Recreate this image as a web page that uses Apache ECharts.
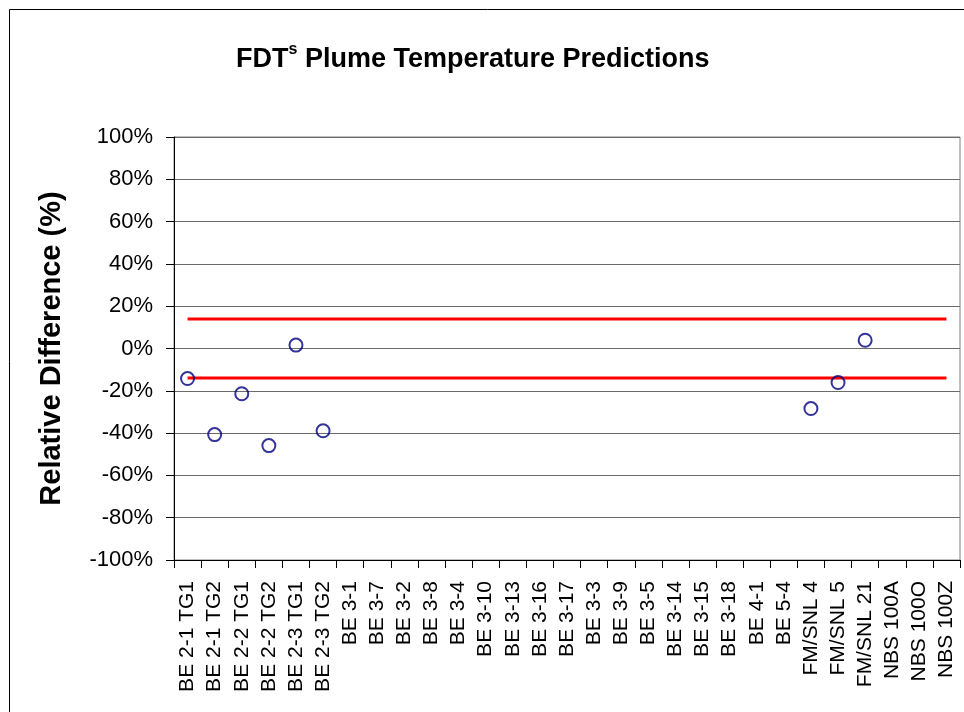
<!DOCTYPE html>
<html>
<head>
<meta charset="utf-8">
<script src="https://cdn.jsdelivr.net/npm/echarts@6/dist/echarts.min.js"></script>
<style>
html,body{margin:0;padding:0;background:#fff;}
#chart{width:964px;height:712px;}
</style>
</head>
<body>
<div id="chart"></div>
<script>
const categories = ['BE 2-1 TG1','BE 2-1 TG2','BE 2-2 TG1','BE 2-2 TG2','BE 2-3 TG1','BE 2-3 TG2',
  'BE 3-1','BE 3-7','BE 3-2','BE 3-8','BE 3-4','BE 3-10','BE 3-13','BE 3-16','BE 3-17','BE 3-3',
  'BE 3-9','BE 3-5','BE 3-14','BE 3-15','BE 3-18','BE 4-1','BE 5-4','FM/SNL 4','FM/SNL 5','FM/SNL 21',
  'NBS 100A','NBS 100O','NBS 100Z'];
const relDiff = [-14.2,-40.7,-21.4,-45.9,1.6,-38.9,
  null,null,null,null,null,null,null,null,null,null,
  null,null,null,null,null,null,null,-28.4,-16.1,3.9,
  null,null,null];
const upperBound = 14;
const lowerBound = -14;
const yMin = -100, yMax = 100, yStep = 20;

const font = 'Liberation Sans, Arial, sans-serif';
const chart = echarts.init(document.getElementById('chart'), null, {renderer:'canvas'});
chart.setOption({
  animation: false,
  backgroundColor: '#fff',
  title: {
    text: '{a|FDT}{s|s}{a| Plume Temperature Predictions}',
    left: 231, top: 34,
    textStyle: {
      rich: {
        a: {fontFamily: font, fontWeight: 'bold', fontSize: 27, color: '#000', lineHeight: 34, verticalAlign: 'bottom'},
        s: {fontFamily: font, fontWeight: 'bold', fontSize: 16, color: '#000', lineHeight: 34, verticalAlign: 'bottom', padding: [0,0,15,0]}
      }
    }
  },
  graphic: [{
    type: 'rect', silent: true,
    shape: {x: 9.5, y: 9.5, width: 1000, height: 1000},
    style: {fill: 'none', stroke: '#000', lineWidth: 1}
  }],
  grid: {left: 174, right: 4, top: 137, bottom: 152, show: true, borderColor: '#808080', borderWidth: 1},
  xAxis: {
    type: 'category', data: categories, boundaryGap: true,
    axisLine: {onZero: false, lineStyle: {color: '#000', width: 1}},
    axisTick: {show: true, interval: 0, length: 8, lineStyle: {color: '#000'}},
    axisLabel: {interval: 0, rotate: 90, margin: 21, fontFamily: font, fontSize: 21, color: '#000'},
    splitLine: {show: false}
  },
  yAxis: {
    type: 'value', min: yMin, max: yMax, interval: yStep,
    name: 'Relative Difference (%)', nameLocation: 'middle', nameGap: 108,
    nameTextStyle: {fontFamily: font, fontWeight: 'bold', fontSize: 29, color: '#000'},
    axisLine: {show: true, lineStyle: {color: '#000', width: 1}},
    axisTick: {show: true, length: 8, lineStyle: {color: '#000'}},
    axisLabel: {formatter: '{value}%', margin: 21, fontFamily: font, fontSize: 22, color: '#000'},
    splitLine: {show: true, lineStyle: {color: '#6b6b6b', width: 1}}
  },
  series: [
    {type: 'line', data: categories.map(() => upperBound), symbol: 'none',
     lineStyle: {color: '#ff0000', width: 3}, z: 2},
    {type: 'line', data: categories.map(() => lowerBound), symbol: 'none',
     lineStyle: {color: '#ff0000', width: 3}, z: 2},
    {type: 'scatter', data: relDiff.map(v => v === null ? '-' : v), symbol: 'circle', symbolSize: 13,
     itemStyle: {color: 'rgba(255,255,255,0)', borderColor: '#000080', borderWidth: 2}, z: 3}
  ]
});
</script>
</body>
</html>
